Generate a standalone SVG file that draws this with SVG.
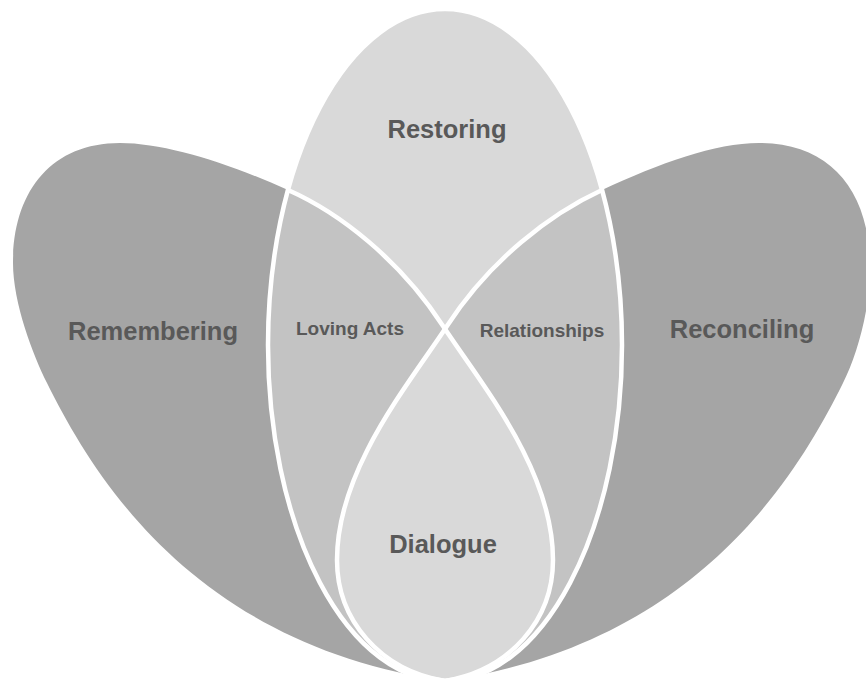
<svg xmlns="http://www.w3.org/2000/svg" xmlns:xlink="http://www.w3.org/1999/xlink" width="866" height="680" viewBox="0 0 866 680">
  <style>
    .dark { fill: #a5a5a5; }
    .mid { fill: #c3c3c3; }
    .light { fill: #d9d9d9; }
    .edge { fill: none; stroke: #ffffff; stroke-width: 4.5; }
    .big { font-family: "Liberation Sans", Arial, sans-serif; font-weight: bold; font-size: 25.5px; fill: #595959; text-anchor: middle; }
    .small { font-family: "Liberation Sans", Arial, sans-serif; font-weight: bold; font-size: 19px; fill: #595959; text-anchor: middle; }
  </style>
  <defs>
    <!-- left petal: broad upper-left lobe narrowing to the shared bottom tip -->
    <path id="petal-left" d="M 445 681 C 200 645, 98 486, 47 383 C 33 355, 13 303, 13 263 C 13 193, 50 143, 120 143 C 165 143, 228 163, 288 190 C 340 213, 400 260, 443 326 C 482 385, 553 470, 553 560 C 553 620, 510 670, 445 681 Z"/>
    <!-- right petal: broad upper-right lobe narrowing to the same tip -->
    <path id="petal-right" d="M 445 681 C 690 645, 792 486, 843 383 C 857 355, 870 310, 870 268 C 870 190, 830 143, 759 143 C 715 143, 660 163, 602 190 C 550 214, 490 260, 447 326 C 408 385, 337 470, 337 560 C 337 620, 380 670, 445 681 Z"/>
    <ellipse id="core" cx="445" cy="345" rx="177" ry="336"/>
    <clipPath id="clip-core"><use xlink:href="#core"/></clipPath>
    <clipPath id="clip-left"><use xlink:href="#petal-left"/></clipPath>
  </defs>

  <!-- outer petals -->
  <g id="remembering">
    <use xlink:href="#petal-left" class="dark"/>
    <text class="big" x="153" y="340">Remembering</text>
  </g>
  <g id="reconciling">
    <use xlink:href="#petal-right" class="dark"/>
    <text class="big" x="742" y="338">Reconciling</text>
  </g>

  <!-- central ellipse -->
  <g id="restoring">
    <use xlink:href="#core" class="light"/>
    <text class="big" x="447" y="138">Restoring</text>
  </g>

  <!-- overlaps inside the central ellipse -->
  <g clip-path="url(#clip-core)">
    <g id="loving-acts">
      <use xlink:href="#petal-left" class="mid"/>
    </g>
    <g id="relationships">
      <use xlink:href="#petal-right" class="mid"/>
    </g>
    <g id="dialogue">
      <use xlink:href="#petal-right" class="light" clip-path="url(#clip-left)"/>
    </g>
    <g id="outlines">
      <use xlink:href="#petal-left" class="edge"/>
      <use xlink:href="#petal-right" class="edge"/>
    </g>
  </g>
  <use xlink:href="#core" class="edge"/>

  <text class="small" x="350" y="335">Loving Acts</text>
  <text class="small" x="542" y="337">Relationships</text>
  <text class="big" x="443" y="553">Dialogue</text>
</svg>
